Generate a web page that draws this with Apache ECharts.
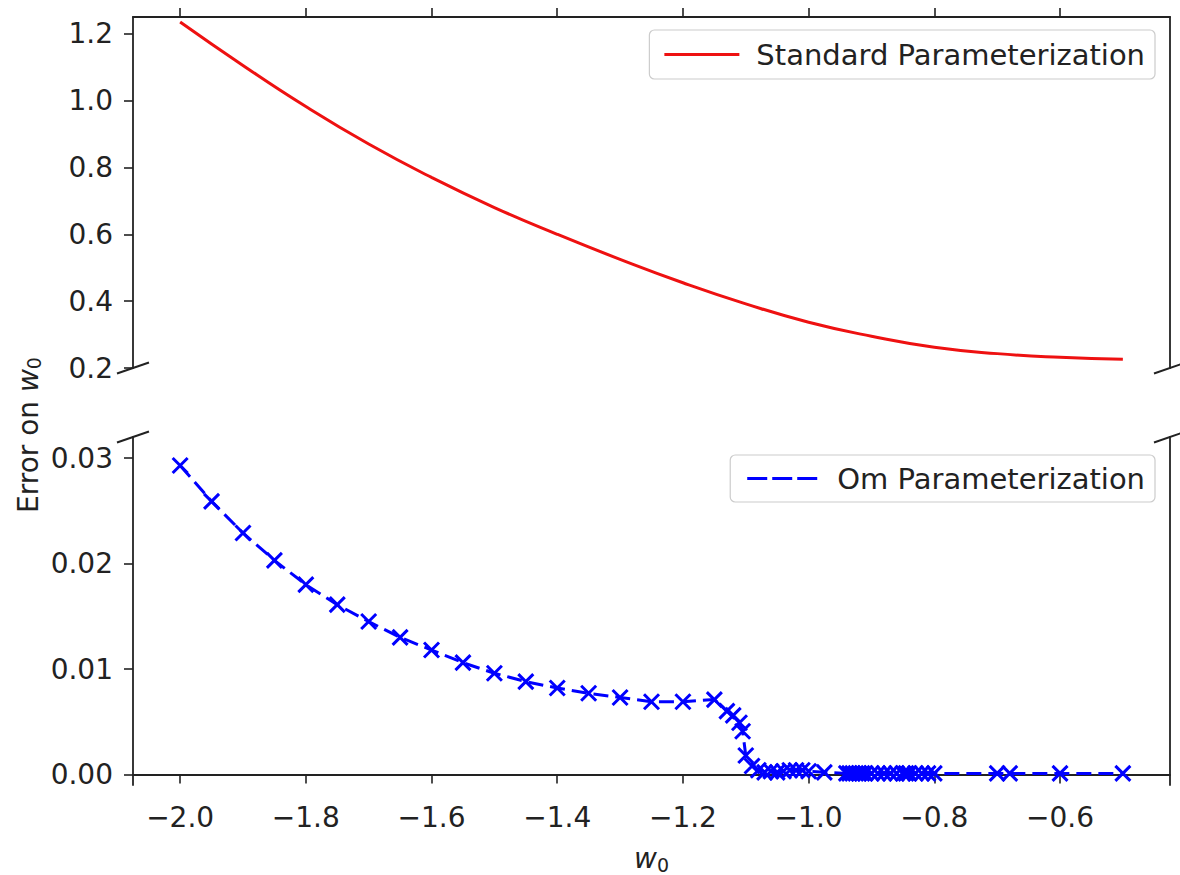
<!DOCTYPE html>
<html>
<head>
<meta charset="utf-8">
<script src="https://cdn.jsdelivr.net/npm/echarts@6/dist/echarts.min.js"></script>
<style>
  html, body { margin: 0; padding: 0; background: #fff; }
  #main { width: 1180px; height: 875px; }
</style>
</head>
<body>
<div id="main"></div>
<script>
// standard parameterization (red, smooth)
const stdW = [-2.0, -1.9, -1.8, -1.7, -1.6, -1.5, -1.4, -1.3, -1.2, -1.1, -1.0, -0.9, -0.8, -0.7, -0.6, -0.5];
const stdErr = [1.235, 1.105, 0.982, 0.870, 0.770, 0.680, 0.600, 0.525, 0.455, 0.392, 0.337, 0.295, 0.262, 0.243, 0.232, 0.226];

// Om parameterization (blue, dashed with x markers)
const omW = [-2.0, -1.95, -1.9, -1.85, -1.8, -1.75, -1.7, -1.65, -1.6, -1.55, -1.5, -1.45, -1.4, -1.35, -1.3, -1.25, -1.2, -1.15,
  -1.13, -1.12, -1.11, -1.105, -1.1, -1.09, -1.08, -1.07, -1.06, -1.05, -1.04, -1.03, -1.02, -1.01, -1.0, -0.975,
  -0.94, -0.935, -0.93, -0.925, -0.92, -0.915, -0.91, -0.9, -0.89, -0.88, -0.87, -0.86, -0.85, -0.845, -0.84, -0.83, -0.82, -0.81, -0.8,
  -0.7, -0.68, -0.6, -0.5];
const omErr = [0.0293, 0.0259, 0.0229, 0.0203, 0.0180, 0.0161, 0.0145, 0.0130, 0.0118, 0.0106, 0.0096, 0.0088, 0.0082, 0.0077, 0.0073, 0.0069, 0.0069, 0.0071,
  0.0060, 0.0056, 0.0049, 0.0041, 0.0018, 0.0008, 0.0004, 0.0002, 0.0003, 0.0002, 0.0003, 0.0004, 0.0004, 0.0004, 0.0003, 0.0002,
  0.0001, 0.0001, 0.0001, 0.0001, 0.0001, 0.0001, 0.0001, 0.0001, 0.0001, 0.0001, 0.0001, 0.0001, 0.0001, 0.0001, 0.0001, 0.0001, 0.0001, 0.0001, 0.0001,
  0.0001, 0.0001, 0.0001, 0.0001];

const xTicks = [-2.0, -1.8, -1.6, -1.4, -1.2, -1.0, -0.8, -0.6];
const yTicksTop = [0.2, 0.4, 0.6, 0.8, 1.0, 1.2];
const yTicksBottom = [0, 0.01, 0.02, 0.03];

const FONT = 'DejaVu Sans';
const INK = '#222';
const RED = '#ee1111';
const BLUE = '#0000ff';
const fmt = (d) => (v) => (v < 0 ? '\u2212' : '') + Math.abs(v).toFixed(d);

const chart = echarts.init(document.getElementById('main'), null, { renderer: 'svg' });

const spine = { show: true, lineStyle: { color: INK, width: 1.8 } };
const tick = (vals) => ({ show: true, inside: false, length: 9, lineStyle: { color: INK, width: 1.6 }, customValues: vals });
const label = (vals, d, margin) => ({
  show: true, customValues: vals, formatter: fmt(d), margin: margin,
  color: INK, fontFamily: FONT, fontSize: 28
});

// break marks at the gap between the panels (left and right spine)
function breakMark(cx, cy) {
  return {
    type: 'line', silent: true,
    shape: { x1: cx - 16, y1: cy + 5.5, x2: cx + 16, y2: cy - 5.5 },
    style: { stroke: INK, lineWidth: 2 }
  };
}

const option = {
  backgroundColor: '#fff',
  animation: false,
  grid: [
    { left: 133, right: 10, top: 17, height: 351 },
    { left: 133, right: 10, top: 437, height: 352 }
  ],
  xAxis: [
    {
      type: 'value', gridIndex: 0, position: 'top', min: -2.075, max: -0.425,
      axisLine: spine, axisTick: tick(xTicks), axisLabel: { show: false }, splitLine: { show: false }
    },
    {
      type: 'value', gridIndex: 1, position: 'bottom', min: -2.075, max: -0.425,
      axisLine: spine, axisTick: tick(xTicks), axisLabel: label(xTicks, 1, 18), splitLine: { show: false },
      name: '{i|w}{s|0}', nameLocation: 'middle', nameGap: 58,
      nameTextStyle: {
        color: INK, fontFamily: FONT, fontSize: 28,
        rich: {
          i: { fontFamily: FONT, fontSize: 28, fontStyle: 'italic', color: INK },
          s: { fontFamily: FONT, fontSize: 19, color: INK, padding: [12, 0, 0, 0] }
        }
      }
    }
  ],
  yAxis: [
    {
      type: 'value', gridIndex: 0, position: 'left', min: 0.2, max: 1.25,
      axisLine: spine, axisTick: tick(yTicksTop), axisLabel: label(yTicksTop, 1, 20), splitLine: { show: false }
    },
    {
      type: 'value', gridIndex: 0, position: 'right', min: 0.2, max: 1.25,
      axisLine: spine, axisTick: { show: false }, axisLabel: { show: false }, splitLine: { show: false }
    },
    {
      type: 'value', gridIndex: 1, position: 'left', min: -0.001, max: 0.032,
      axisLine: spine, axisTick: tick(yTicksBottom), axisLabel: label(yTicksBottom, 2, 20), splitLine: { show: false }
    },
    {
      type: 'value', gridIndex: 1, position: 'right', min: -0.001, max: 0.032,
      axisLine: spine, axisTick: { show: false }, axisLabel: { show: false }, splitLine: { show: false }
    }
  ],
  legend: [
    {
      data: [{
        name: 'Standard Parameterization', icon: 'path://M0,0h75v3h-75z',
        itemStyle: { color: RED, borderWidth: 0 }
      }],
      right: 25, top: 30, itemWidth: 75, itemHeight: 3,
      padding: [10, 10, 10, 15], borderColor: '#ccc', borderWidth: 1.2, borderRadius: 5,
      textStyle: { color: INK, fontFamily: FONT, fontSize: 29, padding: [0, 0, 0, 12] }
    },
    {
      data: [{
        name: 'Om Parameterization', icon: 'path://M0,0h20v3h-20z M25,0h20v3h-20z M50,0h20v3h-20z',
        itemStyle: { color: BLUE, borderWidth: 0 }
      }],
      right: 25, top: 455, itemWidth: 70, itemHeight: 3,
      padding: [9, 10, 9, 17], borderColor: '#ccc', borderWidth: 1.2, borderRadius: 5,
      textStyle: { color: INK, fontFamily: FONT, fontSize: 29, padding: [0, 0, 0, 15] }
    }
  ],
  series: [
    {
      name: 'Standard Parameterization', type: 'line', xAxisIndex: 0, yAxisIndex: 0,
      smooth: true, showSymbol: false, symbol: 'none',
      lineStyle: { color: RED, width: 3 },
      itemStyle: { color: RED },
      data: stdW.map((w, i) => [w, stdErr[i]])
    },
    {
      name: 'Om Parameterization', type: 'line', xAxisIndex: 1, yAxisIndex: 2,
      symbol: 'path://M0,0L10,10M10,0L0,10', symbolSize: 15, showAllSymbol: true,
      lineStyle: { color: BLUE, width: 3, type: [15, 7] },
      itemStyle: { color: 'none', borderColor: BLUE, borderWidth: 3 },
      data: omW.map((w, i) => [w, omErr[i]])
    }
  ],
  graphic: [
    breakMark(133, 368), breakMark(1170, 368),
    breakMark(133, 437), breakMark(1170, 437),
    {
      type: 'text', x: 28, y: 435, rotation: Math.PI / 2, silent: true,
      style: {
        text: '{n|Error on }{i|w}{s|0}', align: 'center', verticalAlign: 'middle',
        rich: {
          n: { fontFamily: FONT, fontSize: 28, fill: INK },
          i: { fontFamily: FONT, fontSize: 28, fontStyle: 'italic', fill: INK },
          s: { fontFamily: FONT, fontSize: 19, fill: INK, padding: [12, 0, 0, 0] }
        }
      }
    }
  ]
};

chart.setOption(option);
</script>
</body>
</html>
